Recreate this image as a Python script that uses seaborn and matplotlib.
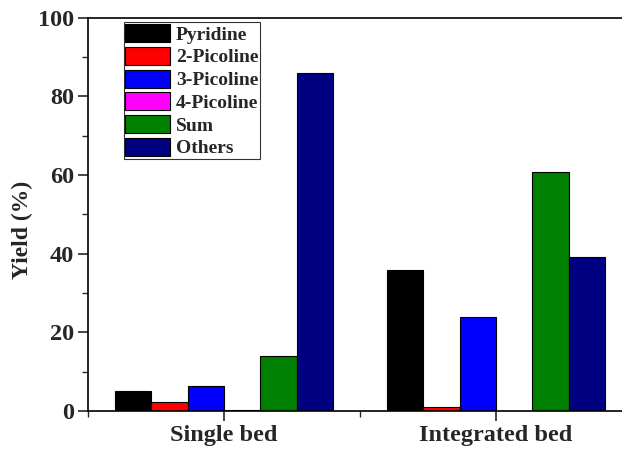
import matplotlib
matplotlib.use("Agg")
import matplotlib.pyplot as plt
import seaborn as sns
import pandas as pd
from matplotlib.ticker import MultipleLocator, FixedLocator

# Yields (%) of each product for the two reactor configurations
beds = ["Single bed", "Integrated bed"]
components = ["Pyridine", "2-Picoline", "3-Picoline", "4-Picoline", "Sum", "Others"]
pyridine = [5.1, 35.8]
picoline_2 = [2.2, 0.9]
picoline_3 = [6.3, 24.0]
picoline_4 = [0.35, 0.0]
total_sum = [14.0, 60.8]
others = [85.9, 39.1]
colors = ["#000000", "#FF0000", "#0000FF", "#FF00FF", "#008000", "#000080"]

series = [pyridine, picoline_2, picoline_3, picoline_4, total_sum, others]
rows = []
for comp, vals in zip(components, series):
    for bed, v in zip(beds, vals):
        rows.append({"Bed": bed, "Component": comp, "Yield": v})
df = pd.DataFrame(rows)

sns.set_style("ticks")
plt.rcParams["font.family"] = ["Liberation Serif", "DejaVu Serif"]
plt.rcParams["font.weight"] = "bold"

fig = plt.figure(figsize=(6.22, 4.51), dpi=100)
ax = fig.add_axes([88 / 622, 1 - 411 / 451, 544 / 622, (411 - 17.7) / 451])

sns.barplot(data=df, x="Bed", y="Yield", hue="Component", order=beds,
            hue_order=components, palette=colors, width=0.8,
            edgecolor="black", linewidth=0.8, saturation=1, ax=ax,
            legend=True)

ax.set_xlim(-0.5, 1.5)
ax.set_ylim(0, 100)
ax.yaxis.set_major_locator(MultipleLocator(20))
ax.yaxis.set_minor_locator(MultipleLocator(10))
ax.xaxis.set_minor_locator(FixedLocator([-0.5, 0.5, 1.5]))

for s in ax.spines.values():
    s.set_linewidth(1.2)
    s.set_color("black")

ax.tick_params(axis="both", which="major", direction="out", length=7,
               width=1.2, labelsize=17.5, pad=3)
ax.tick_params(axis="both", which="minor", direction="out", length=4,
               width=1.0)
for lab in ax.get_xticklabels() + ax.get_yticklabels():
    lab.set_fontweight("bold")

ax.set_xlabel("")
ax.set_ylabel("Yield (%)", fontsize=17, fontweight="bold")
ax.yaxis.set_label_coords(-0.101, 0.46)

handles, labels = ax.get_legend_handles_labels()
leg = ax.legend(handles, labels, loc="upper left",
                bbox_to_anchor=(0.0656, 0.988), borderaxespad=0,
                frameon=True, fancybox=False, edgecolor="black",
                prop={"size": 14, "weight": "bold"},
                handlelength=2.3, handleheight=1.05, labelspacing=0.16,
                handletextpad=0.3, borderpad=0.08, title=None)
leg.get_frame().set_linewidth(0.8)

fig.savefig("out.png", dpi=100)
